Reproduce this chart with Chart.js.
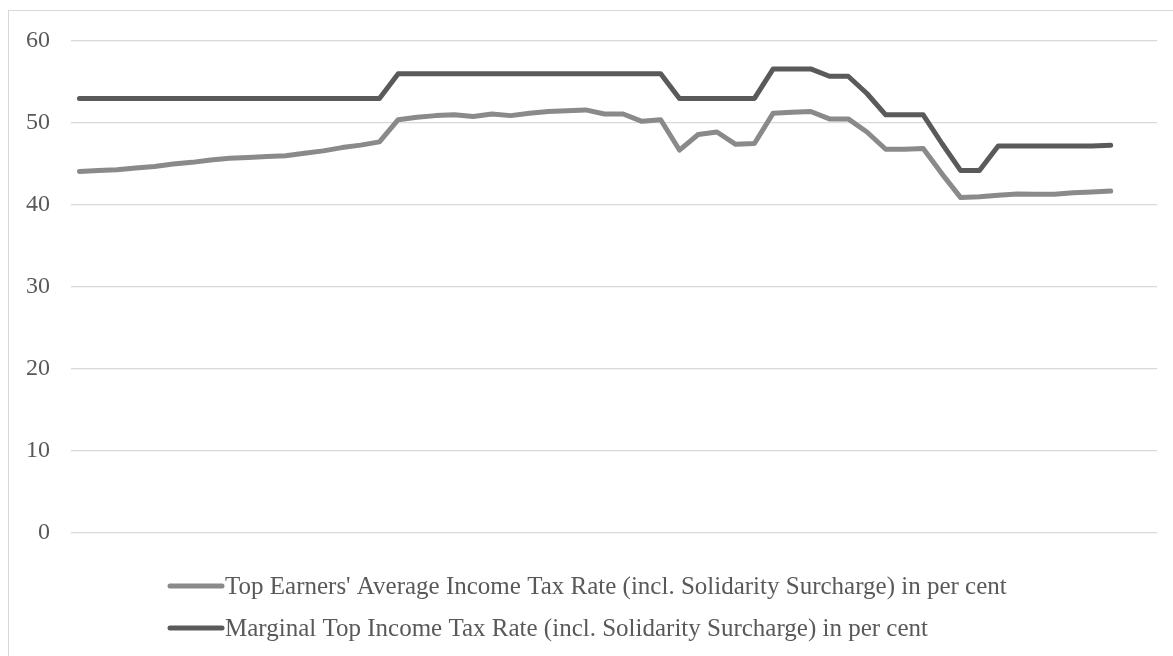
<!DOCTYPE html>
<html>
<head>
<meta charset="utf-8">
<script src="https://cdn.jsdelivr.net/npm/chart.js@4.4.1/dist/chart.umd.min.js"></script>
<style>
  html, body { margin: 0; padding: 0; background: #ffffff; overflow: hidden; }
  #frame {
    position: absolute; left: 8px; top: 10px; width: 1200px; height: 700px;
    border: 1px solid #d9d9d9; box-sizing: border-box;
  }
  #chart { position: absolute; left: 0; top: 0; }
</style>
</head>
<body>
<div id="frame"></div>
<canvas id="chart" width="1173" height="656"></canvas>
<script>
// Years covered by both series
const years = [
  1958, 1959, 1960, 1961, 1962, 1963, 1964, 1965, 1966, 1967,
  1968, 1969, 1970, 1971, 1972, 1973, 1974, 1975, 1976, 1977,
  1978, 1979, 1980, 1981, 1982, 1983, 1984, 1985, 1986, 1987,
  1988, 1989, 1990, 1991, 1992, 1993, 1994, 1995, 1996, 1997,
  1998, 1999, 2000, 2001, 2002, 2003, 2004, 2005, 2006, 2007,
  2008, 2009, 2010, 2011, 2012, 2013
];

// Top earners' average income tax rate incl. solidarity surcharge (%)
const averageRate = [
  44.1, 44.2, 44.3, 44.5, 44.7, 45.0, 45.2, 45.5, 45.7, 45.8,
  45.9, 46.0, 46.3, 46.6, 47.0, 47.3, 47.7, 50.4, 50.7, 50.9,
  51.0, 50.8, 51.1, 50.9, 51.2, 51.4, 51.5, 51.6, 51.1, 51.1,
  50.2, 50.4, 46.7, 48.6, 48.9, 47.4, 47.5, 51.2, 51.3, 51.4,
  50.5, 50.5, 48.9, 46.8, 46.8, 46.9, 43.8, 40.9, 41.0, 41.2,
  41.35, 41.3, 41.3, 41.5, 41.6, 41.7
];

// Marginal top income tax rate incl. solidarity surcharge (%)
const marginalRate = [
  53.0, 53.0, 53.0, 53.0, 53.0, 53.0, 53.0, 53.0, 53.0, 53.0,
  53.0, 53.0, 53.0, 53.0, 53.0, 53.0, 53.0, 56.0, 56.0, 56.0,
  56.0, 56.0, 56.0, 56.0, 56.0, 56.0, 56.0, 56.0, 56.0, 56.0,
  56.0, 56.0, 53.0, 53.0, 53.0, 53.0, 53.0, 56.6, 56.6, 56.6,
  55.7, 55.7, 53.6, 51.0, 51.0, 51.0, 47.5, 44.2, 44.2, 47.2,
  47.2, 47.2, 47.2, 47.2, 47.2, 47.3
];

const yTicks = [0, 10, 20, 30, 40, 50, 60];

const seriesLabels = [
  "Top Earners' Average Income Tax Rate (incl. Solidarity Surcharge) in per cent",
  "Marginal Top Income Tax Rate (incl. Solidarity Surcharge) in per cent"
];

const FONT_FAMILY = "'Liberation Serif', 'Times New Roman', serif";
const TEXT_COLOR = '#595959';

const toPoints = (vals) => years.map((yr, i) => ({ x: yr, y: vals[i] }));

// Legend drawn as two left-aligned rows under the plot
const rowLegend = {
  id: 'rowLegend',
  afterDraw(chart, args, opts) {
    const ctx = chart.ctx;
    ctx.save();
    ctx.font = `${opts.fontSize}px ${FONT_FAMILY}`;
    ctx.textBaseline = 'middle';
    ctx.textAlign = 'left';
    chart.data.datasets.forEach((ds, i) => {
      const y = opts.top + i * opts.rowGap;
      ctx.strokeStyle = ds.borderColor;
      ctx.lineWidth = ds.borderWidth;
      ctx.lineCap = 'round';
      ctx.beginPath();
      ctx.moveTo(opts.left + 2, y);
      ctx.lineTo(opts.left + opts.markerWidth - 2, y);
      ctx.stroke();
      ctx.fillStyle = TEXT_COLOR;
      ctx.fillText(ds.label, opts.left + opts.markerWidth + 1, y + 1);
    });
    ctx.restore();
  }
};

new Chart(document.getElementById('chart'), {
  type: 'line',
  data: {
    datasets: [
      {
        label: seriesLabels[0],
        data: toPoints(averageRate),
        borderColor: '#8a8a8a',
        borderWidth: 5,
        pointRadius: 0,
        tension: 0,
        borderCapStyle: 'round',
        borderJoinStyle: 'round',
        fill: false
      },
      {
        label: seriesLabels[1],
        data: toPoints(marginalRate),
        borderColor: '#5a5a5a',
        borderWidth: 5,
        pointRadius: 0,
        tension: 0,
        borderCapStyle: 'round',
        borderJoinStyle: 'round',
        fill: false
      }
    ]
  },
  options: {
    responsive: false,
    animation: false,
    events: [],
    layout: { padding: { left: 0, top: 41, right: 16, bottom: 123 } },
    plugins: {
      legend: { display: false },
      tooltip: { enabled: false },
      rowLegend: { left: 168, top: 586, rowGap: 42, markerWidth: 56, fontSize: 25 }
    },
    scales: {
      x: {
        type: 'linear',
        display: false,
        min: 1957.55,
        max: 2015.47
      },
      y: {
        min: 0,
        max: 60,
        afterBuildTicks(scale) {
          scale.ticks = yTicks.map(v => ({ value: v }));
        },
        afterFit(scale) { scale.width = 71; },
        border: { display: false },
        grid: { color: '#d9d9d9', lineWidth: 1.3, drawTicks: false },
        ticks: {
          padding: 21,
          color: TEXT_COLOR,
          font: { family: FONT_FAMILY, size: 24 }
        }
      }
    }
  },
  plugins: [rowLegend]
});
</script>
</body>
</html>
